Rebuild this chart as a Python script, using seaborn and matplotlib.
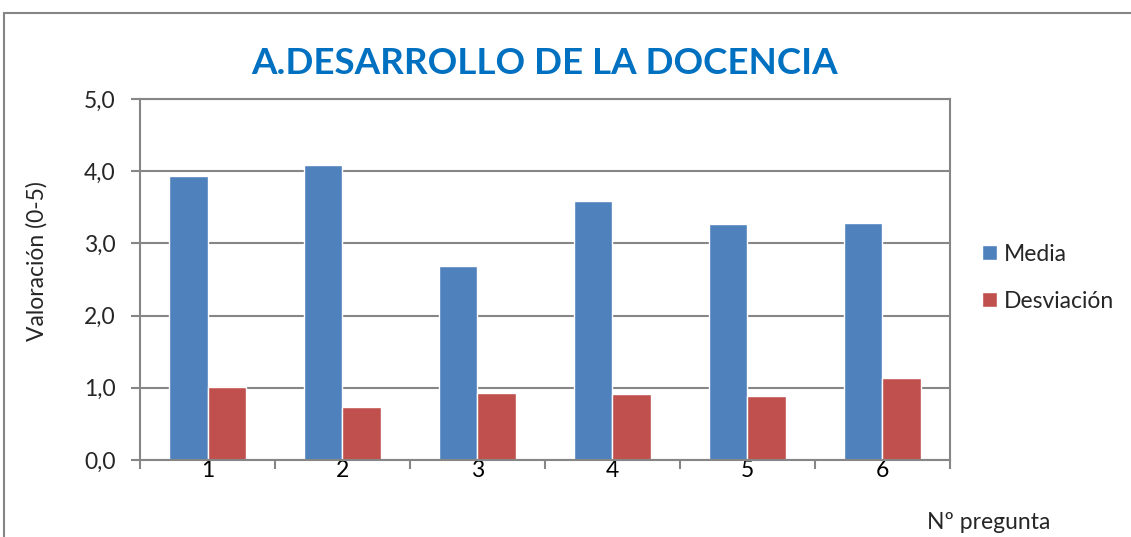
import matplotlib
matplotlib.use("Agg")
import matplotlib.pyplot as plt
import matplotlib.ticker as mticker
from matplotlib.patches import Rectangle
import pandas as pd
import seaborn as sns

preguntas = ["1", "2", "3", "4", "5", "6"]
media = [3.94, 4.08, 2.69, 3.59, 3.27, 3.28]
desviacion = [1.01, 0.74, 0.93, 0.91, 0.89, 1.13]
series = ["Media", "Desviación"]
colores = ["#4F81BD", "#C0504D"]

df = pd.DataFrame({
    "pregunta": preguntas * 2,
    "valor": media + desviacion,
    "serie": [series[0]] * len(preguntas) + [series[1]] * len(preguntas),
})

sns.set_theme(style="white")
plt.rcParams["font.family"] = ["Lato", "DejaVu Sans"]

fig = plt.figure(figsize=(11.31, 5.37), dpi=100)
ax = fig.add_axes([0.1238, 0.1434, 0.716, 0.6722])

sns.barplot(data=df, x="pregunta", y="valor", hue="serie",
            palette=colores, width=0.57, saturation=1, ax=ax)

grid = "#868686"
fs = 16.5
ax.set_ylim(0, 5)
ax.set_xlim(-0.5, 5.5)
ax.yaxis.set_major_locator(mticker.MultipleLocator(1))
ax.yaxis.set_major_formatter(
    mticker.FuncFormatter(lambda v, p: f"{v:.1f}".replace(".", ",")))
ax.grid(axis="y", color=grid, linewidth=1.5)
ax.set_axisbelow(True)
for s in ax.spines.values():
    s.set_color(grid)
    s.set_linewidth(1.5)

# category boundaries get the ticks, labels sit in the middle
ax.set_xticks([i + 0.5 for i in range(-1, 6)], minor=True)
ax.tick_params(axis="x", which="major", length=0, labelsize=fs, pad=0,
               colors="black")
ax.tick_params(axis="x", which="minor", length=6.5, width=1.5, color=grid,
               bottom=True)
ax.tick_params(axis="y", length=6.5, width=1.5, color=grid, labelsize=fs,
               left=True, pad=11)

ax.set_xlabel("Nº pregunta", fontsize=fs)
ax.xaxis.set_label_coords(1.048, -0.145)
ax.set_ylabel("Valoración (0-5)", fontsize=fs)
ax.yaxis.set_label_coords(-0.1136, 0.55)

ax.set_title("A.DESARROLLO DE LA DOCENCIA", fontsize=26.5, fontweight="bold",
             color="#0070C0", pad=18)

ax.legend(loc="center left", bbox_to_anchor=(1.04, 0.505), frameon=False,
          fontsize=fs, handlelength=0.65, handleheight=0.65,
          handletextpad=0.3, labelspacing=1.15, borderpad=0,
          borderaxespad=0)

fig.patches.append(Rectangle((4 / 1131, -0.1), 1.2, 1 - 13 / 537 + 0.1,
                             transform=fig.transFigure, fill=False,
                             edgecolor=grid, linewidth=1.5))

fig.savefig("out.png", dpi=100)
